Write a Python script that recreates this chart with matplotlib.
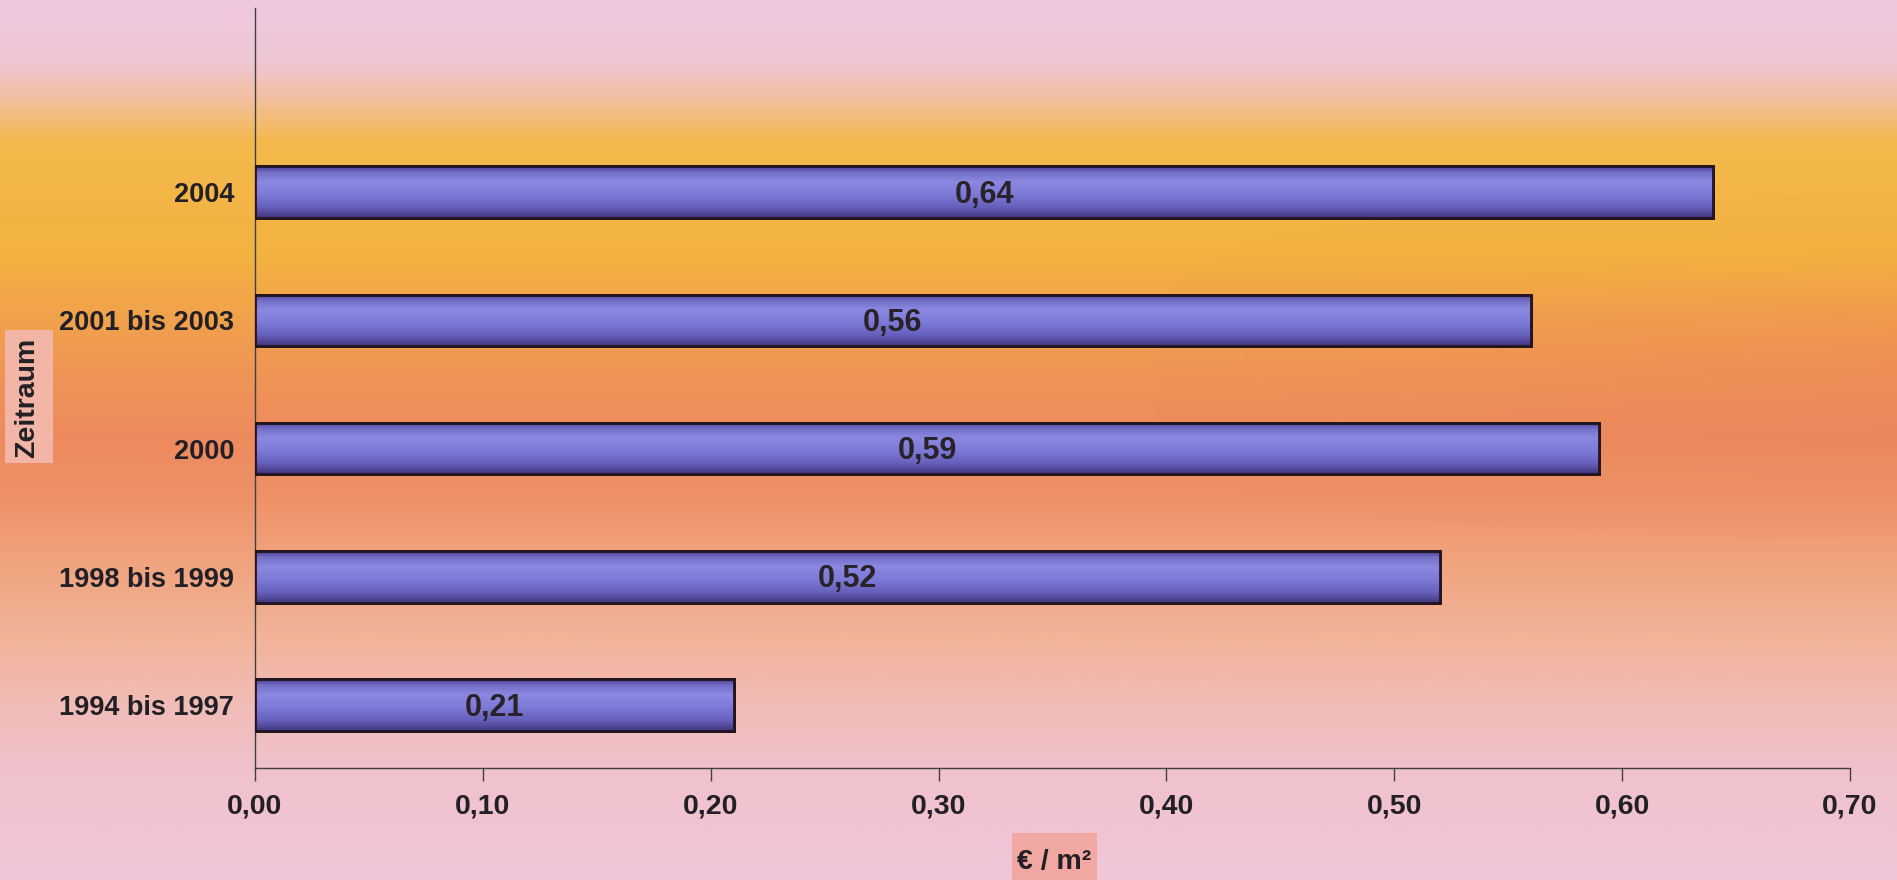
import numpy as np
import matplotlib
matplotlib.use('Agg')
import matplotlib.pyplot as plt
from matplotlib.colors import LinearSegmentedColormap
from matplotlib.patches import Rectangle

# data
categories = ['1994 bis 1997', '1998 bis 1999', '2000', '2001 bis 2003', '2004']
values = [0.21, 0.52, 0.59, 0.56, 0.64]
value_labels = ['0,21', '0,52', '0,59', '0,56', '0,64']
xticks = [0.0, 0.1, 0.2, 0.3, 0.4, 0.5, 0.6, 0.7]
xtick_labels = ['0,00', '0,10', '0,20', '0,30', '0,40', '0,50', '0,60', '0,70']

plt.rcParams['font.family'] = ['Liberation Sans', 'DejaVu Sans']
plt.rcParams['font.weight'] = 'bold'

W, H = 1897, 880
fig = plt.figure(figsize=(W / 100, H / 100), dpi=100)

# background gradient (top pink -> yellow -> orange -> pink)
bg_cmap = LinearSegmentedColormap.from_list('bg', [
    (0.00, '#efc8e0'),
    (0.07, '#f0c6d4'),
    (0.11, '#f2c0a0'),
    (0.16, '#f4b84c'),
    (0.29, '#f3b240'),
    (0.35, '#f1a44a'),
    (0.42, '#ef9656'),
    (0.50, '#ed8a5e'),
    (0.57, '#ee9268'),
    (0.63, '#f0a27c'),
    (0.72, '#f1b296'),
    (0.80, '#f1bcb6'),
    (0.88, '#f0c2cc'),
    (1.00, '#f0c6d8'),
])
bg = fig.add_axes([0, 0, 1, 1], zorder=-10)
grad = np.linspace(0, 1, 400).reshape(-1, 1)
bg.imshow(grad, aspect='auto', cmap=bg_cmap, extent=[0, 1, 0, 1], origin='upper')
# slightly redder towards the right side
side = np.zeros((400, 200, 4))
yy = np.linspace(0, 1, 400).reshape(-1, 1)
xx = np.linspace(0, 1, 200).reshape(1, -1)
side[..., 0] = 0.92
side[..., 1] = 0.45
side[..., 2] = 0.35
side[..., 3] = 0.2 * np.exp(-((yy - 0.42) / 0.10) ** 2) * np.clip((xx - 0.6) / 0.4, 0, 1)
bg.imshow(side, aspect='auto', extent=[0, 1, 0, 1], origin='upper')
bg.set_xlim(0, 1)
bg.set_ylim(0, 1)
bg.axis('off')

ax = fig.add_axes([255 / W, 1 - 768 / H, (1850 - 255) / W, (768 - 8) / H])
ax.patch.set_alpha(0)

y = np.arange(len(categories))
bars = ax.barh(y, values, height=0.4, color='#7a78d4', edgecolor='#221420', linewidth=2, zorder=3)

# shading inside each bar
bar_cmap = LinearSegmentedColormap.from_list('bar', [
    (0.00, '#4c3c8c'),
    (0.12, '#7470c8'),
    (0.30, '#8a88e0'),
    (0.55, '#7c7ad6'),
    (0.80, '#6660bc'),
    (1.00, '#44347c'),
])
shade = np.linspace(0, 1, 100).reshape(-1, 1)
for b in bars:
    im = ax.imshow(shade, aspect='auto', cmap=bar_cmap, origin='upper',
                   extent=[b.get_x(), b.get_x() + b.get_width(),
                           b.get_y(), b.get_y() + b.get_height()], zorder=3.5)
    im.set_clip_path(b)
    frame = plt.Rectangle((b.get_x(), b.get_y()), b.get_width(), b.get_height(),
                          fill=False, edgecolor='#221420', linewidth=2, zorder=4)
    ax.add_patch(frame)

for yi, v, lab in zip(y, values, value_labels):
    ax.text(v / 2, yi - 0.02, lab, ha='center', va='center', fontsize=22,
            fontweight='bold', color='#2a2228', zorder=5)

ax.set_xlim(0, 0.7)
ax.set_ylim(-0.49, 5.435)
ax.set_xticks(xticks)
ax.set_xticklabels(xtick_labels, fontsize=20.5, fontweight='bold', color='#222026')
ax.set_yticks(y)
ax.set_yticklabels(categories, fontsize=19.5, fontweight='bold', color='#222026')
ax.tick_params(axis='x', direction='out', length=9, width=1, color='#404040', pad=9)
ax.tick_params(axis='y', length=0, pad=15)

for s in ['top', 'right']:
    ax.spines[s].set_visible(False)
for s in ['left', 'bottom']:
    ax.spines[s].set_color('#404040')
    ax.spines[s].set_linewidth(1)

# label boxes
fig.patches.append(Rectangle((1012 / W, 0), 85 / W, 47 / H, transform=fig.transFigure,
                             facecolor='#f2a8a2', edgecolor='none', zorder=1))
fig.patches.append(Rectangle((5 / W, 1 - 463 / H), 48 / W, 133 / H, transform=fig.transFigure,
                             facecolor='#f3b6a6', edgecolor='none', zorder=1))
fig.text(1054 / W, 1 - 862 / H, '€ / m²', ha='center', va='center', fontsize=20.5,
         fontweight='bold', color='#222026', zorder=2)
fig.text(27 / W, 1 - 398 / H, 'Zeitraum', ha='center', va='center', rotation=90,
         fontsize=20.5, fontweight='bold', color='#222026', zorder=2)

plt.savefig('out.png', dpi=100)
